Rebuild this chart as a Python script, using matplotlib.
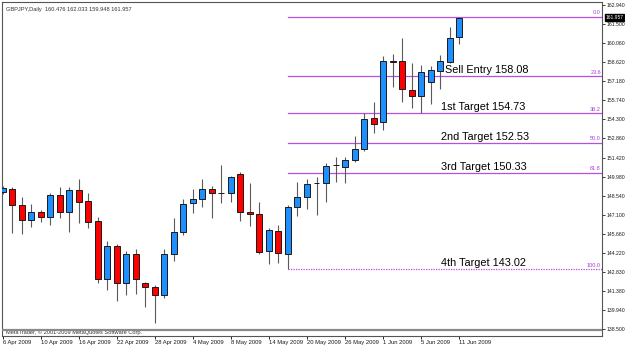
# GBPJPY daily candles with fibonacci retracement targets (MetaTrader style)
import numpy as np
import matplotlib; matplotlib.use("Agg")
import matplotlib.pyplot as plt

plt.rcParams["font.family"] = ["Liberation Sans", "DejaVu Sans"]

# OHLC, 6 Apr 2009 .. 11 Jun 2009
opens  = [148.85,149.05,147.82,146.72,147.34,146.92,148.60,147.34,148.98,148.17,
          146.64,142.25,144.78,141.94,144.13,141.94,141.69,141.06,144.13,145.83,
          148.02,148.27,149.03,148.75,148.73,150.18,147.32,147.17,144.38,145.89,
          144.13,147.67,148.43,149.48,149.48,150.84,150.73,151.24,152.04,154.38,
          154.12,158.70,158.70,156.51,156.08,157.14,157.97,158.64,160.476]
highs  = [149.30,149.18,148.47,147.92,147.47,148.77,149.23,149.23,149.78,148.77,
          146.96,145.13,144.88,144.38,144.51,142.07,141.82,144.51,146.84,148.30,
          149.03,149.78,149.28,150.86,150.05,150.31,149.48,148.05,146.09,146.34,
          147.85,149.56,149.78,149.98,151.03,151.44,151.44,153.05,154.76,155.63,
          159.10,159.20,160.41,158.52,158.40,158.34,159.15,161.24,162.033]
lows   = [148.70,145.76,145.66,146.21,146.59,146.34,146.89,145.79,146.51,146.14,
          141.94,141.44,140.61,141.06,141.12,140.14,138.93,140.86,143.63,145.58,
          147.27,147.72,146.89,148.02,148.10,146.66,146.26,144.13,143.38,143.45,
          143.02,147.02,147.52,147.09,148.10,149.60,149.53,151.11,151.94,153.25,
          153.50,156.76,155.63,155.13,154.76,155.46,156.56,158.52,159.948]
closes = [149.10,147.82,146.72,147.34,146.92,148.60,147.34,148.98,148.10,146.59,
          142.25,144.78,141.94,144.13,142.27,141.64,141.06,144.15,145.83,147.92,
          148.27,149.03,148.73,148.75,149.98,147.30,147.17,144.33,145.96,144.21,
          147.72,148.43,149.43,149.48,150.78,150.84,151.24,152.04,154.30,153.95,
          158.70,158.60,156.56,156.08,157.89,158.02,158.70,160.41,161.957]

date_ticks = [0,4,8,12,16,20,24,28,32,36,40,44,48]
date_labels = ["6 Apr 2009","10 Apr 2009","16 Apr 2009","22 Apr 2009","28 Apr 2009",
               "4 May 2009","8 May 2009","14 May 2009","20 May 2009","26 May 2009",
               "1 Jun 2009","5 Jun 2009","11 Jun 2009"]
price_ticks = [162.94,161.50,160.06,158.62,157.18,155.74,154.30,152.86,151.42,149.98,
               148.54,147.10,145.66,144.22,142.83,141.38,139.94,138.50]

fib_high, fib_low, fib_start = 162.033, 143.02, 30
fib_levels = [0.0, 23.6, 38.2, 50.0, 61.8, 100.0]
target_texts = ["", "Sell Entry 158.08", "1st Target 154.73", "2nd Target 152.53",
                "3rd Target 150.33", "4th Target 143.02"]

O, H, L, C = map(np.array, (opens, highs, lows, closes))
x = np.arange(len(O))
bull = C >= O

fig = plt.figure(figsize=(6.25, 3.48), dpi=100)
ax = fig.add_axes([2/625, 12/348, 600/625, 334/348])
ax.set_xlim(-0.07, 63.02); ax.set_ylim(137.97, 163.14)

# fibonacci levels
fcol = "#b84fe0"
for lev, txt in zip(fib_levels, target_texts):
    p = fib_high - lev/100*(fib_high - fib_low)
    ls = (0, (1, 1)) if lev == 100.0 else "-"
    ax.plot([fib_start, 63.02], [p, p], color=fcol, lw=0.9, ls=ls, zorder=1)
    ax.annotate(f"{lev:.1f}", (62.9, p), xytext=(0, 1.0), textcoords="offset points",
                ha="right", va="bottom", fontsize=4.0, color="#a53fd8")
    if txt:
        tx = 46.55 if lev == 23.6 else 46.1
        ax.annotate(txt, (tx, p), xytext=(0, 2.2), textcoords="offset points",
                    ha="left", va="baseline", fontsize=7.8, color="black", zorder=5)

# candles
ax.vlines(x, L, H, color="#5a5a5a", lw=0.8, zorder=2)
cols = np.where(bull, "#1e8fff", "#ff0000")
cols = np.where(O == C, "black", cols)
ax.bar(x, np.abs(C - O), bottom=np.minimum(O, C), width=0.63, color=cols,
       edgecolor="#1a1a1a", lw=0.7, zorder=3)

# title & copyright
ax.text(0.006, 0.985, "GBPJPY,Daily  160.476 162.033 159.948 161.957",
        transform=ax.transAxes, ha="left", va="top", fontsize=4.1, color="#333333")
ax.plot([0, 1], [0.018, 0.018], transform=ax.transAxes, color="#8a8a8a", lw=1.6, zorder=4)
ax.text(0.006, 0.004, "MetaTrader, \u00a9 2001-2009 MetaQuotes Software Corp.",
        transform=ax.transAxes, ha="left", va="bottom", fontsize=4.1, color="#333333")

# axes
for s in ax.spines.values():
    s.set_color("#555555"); s.set_linewidth(0.8)
ax.yaxis.tick_right()
ax.set_yticks(price_ticks)
ax.set_yticklabels([f"{v:.3f}" for v in price_ticks], fontsize=3.7, color="#1a1a1a")
ax.tick_params(axis="y", length=2, width=0.6, pad=1, colors="#1a1a1a")
ax.set_xticks(date_ticks)
ax.set_xticklabels(date_labels, fontsize=4.2, ha="left", color="#1a1a1a")
ax.tick_params(axis="x", length=2, width=0.6, pad=1)

# current price box
ax.annotate(f"{closes[-1]:.3f}", xy=(1.0, closes[-1]), xycoords=("axes fraction", "data"),
            xytext=(2.5, 0), textcoords="offset points", ha="left", va="center",
            fontsize=3.6, color="white",
            bbox=dict(boxstyle="square,pad=0.15", fc="black", ec="black"))

fig.savefig("out.png", dpi=100, facecolor="white")
